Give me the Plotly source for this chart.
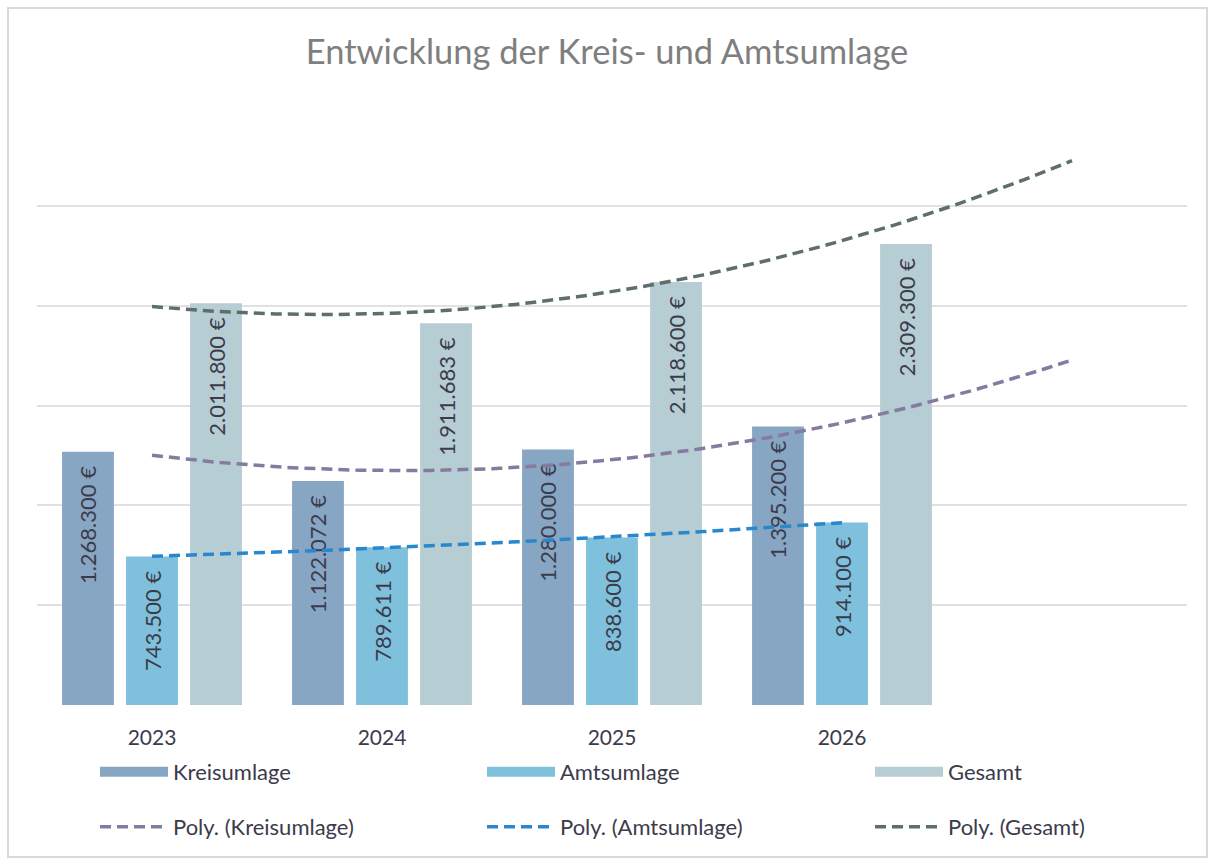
import numpy as np
import plotly.graph_objects as go

years = ["2023", "2024", "2025", "2026"]
kreisumlage = [1268300, 1122072, 1280000, 1395200]
amtsumlage = [743500, 789611, 838600, 914100]
gesamt = [2011800, 1911683, 2118600, 2309300]

series_names = ["Kreisumlage", "Amtsumlage", "Gesamt"]
bar_colors = ["#87A6C4", "#7FC1DC", "#B7CDD4"]
trend_colors = ["#857B9E", "#2987CC", "#5D6E6B"]
forward_periods = [1, 0, 1]

FONT = "Lato"
TXT = "#3B3B4B"

def fmt(v):
    return f"{v:,.0f}".replace(",", ".") + " €\u00a0\u00a0"

x = np.arange(len(years))
fig = go.Figure()

# legend slots: column swatch x (px) and row centre y (px)
col_px = [100, 487, 875]
row_px = [772, 827]

def legend_cfg(col, row):
    return dict(orientation="h", x=(col_px[col] - 42) / 1150, xanchor="left",
                y=1 - row_px[row] / 863, yref="container", yanchor="middle",
                itemwidth=68, font=dict(family=FONT, size=22, color=TXT),
                bgcolor="rgba(0,0,0,0)")

legends = {}
data = [kreisumlage, amtsumlage, gesamt]
for i, (name, vals, col) in enumerate(zip(series_names, data, bar_colors)):
    fig.add_trace(go.Bar(
        x=x, y=vals, name=name, marker=dict(color=col, line=dict(width=0)),
        text=[fmt(v) for v in vals], textposition="inside", insidetextanchor="end",
        textangle=-90, textfont=dict(family=FONT, size=22, color=TXT),
        showlegend=False, cliponaxis=False,
    ))
    key = "legend" if i == 0 else f"legend{i + 1}"
    legends[key] = legend_cfg(i, 0)
    # legend-only entry drawn as a wide swatch
    fig.add_trace(go.Scatter(
        x=[None], y=[None], mode="lines", name=name,
        line=dict(color=col, width=14), legend=key, showlegend=True,
    ))

for i, (name, vals, col, fwd) in enumerate(zip(series_names, data, trend_colors, forward_periods)):
    coeffs = np.polyfit(x, np.array(vals, dtype=float), 2)
    xs = np.linspace(0, len(years) - 1 + fwd, 120)
    ys = np.polyval(coeffs, xs)
    key = f"legend{i + 4}"
    legends[key] = legend_cfg(i, 1)
    fig.add_trace(go.Scatter(
        x=xs, y=ys, mode="lines", name=f"Poly. ({name})",
        line=dict(color=col, width=3.5, dash="11px,6px"),
        legend=key, hoverinfo="skip",
    ))

fig.update_layout(
    width=1214, height=863,
    margin=dict(l=37, r=27, t=105, b=158, autoexpand=False),
    paper_bgcolor="white", plot_bgcolor="white",
    barmode="group", bargap=0.165, bargroupgap=0.19,
    title=dict(text="Entwicklung der Kreis- und Amtsumlage", x=0.5, xanchor="center",
               y=1 - 52 / 863, yanchor="middle", yref="container",
               font=dict(family=FONT, size=34.5, color="#7F7F7F")),
    font=dict(family=FONT, color=TXT),
    xaxis=dict(tickvals=list(x), ticktext=years, range=[-0.5, 4.5],
               showgrid=False, zeroline=False, showline=False, ticks="",
               ticklabelstandoff=18,
               tickfont=dict(family=FONT, size=21, color=TXT)),
    yaxis=dict(range=[0, 3005000], tickvals=[0, 500000, 1000000, 1500000, 2000000, 2500000, 3000000],
               showticklabels=False,
               gridcolor="#E0E0E6", gridwidth=2, zeroline=False, showline=False, ticks=""),
    shapes=[dict(type="rect", xref="paper", yref="paper",
                 x0=(8 - 37) / 1150, x1=(1207 - 37) / 1150,
                 y0=(705 - 857) / 600, y1=(705 - 8) / 600,
                 line=dict(color="#D9D9D9", width=2), fillcolor="rgba(0,0,0,0)", layer="below")],
    **legends,
)

fig.write_html("out.html", config={"displayModeBar": False},
               post_script="document.body.style.margin='0';")
